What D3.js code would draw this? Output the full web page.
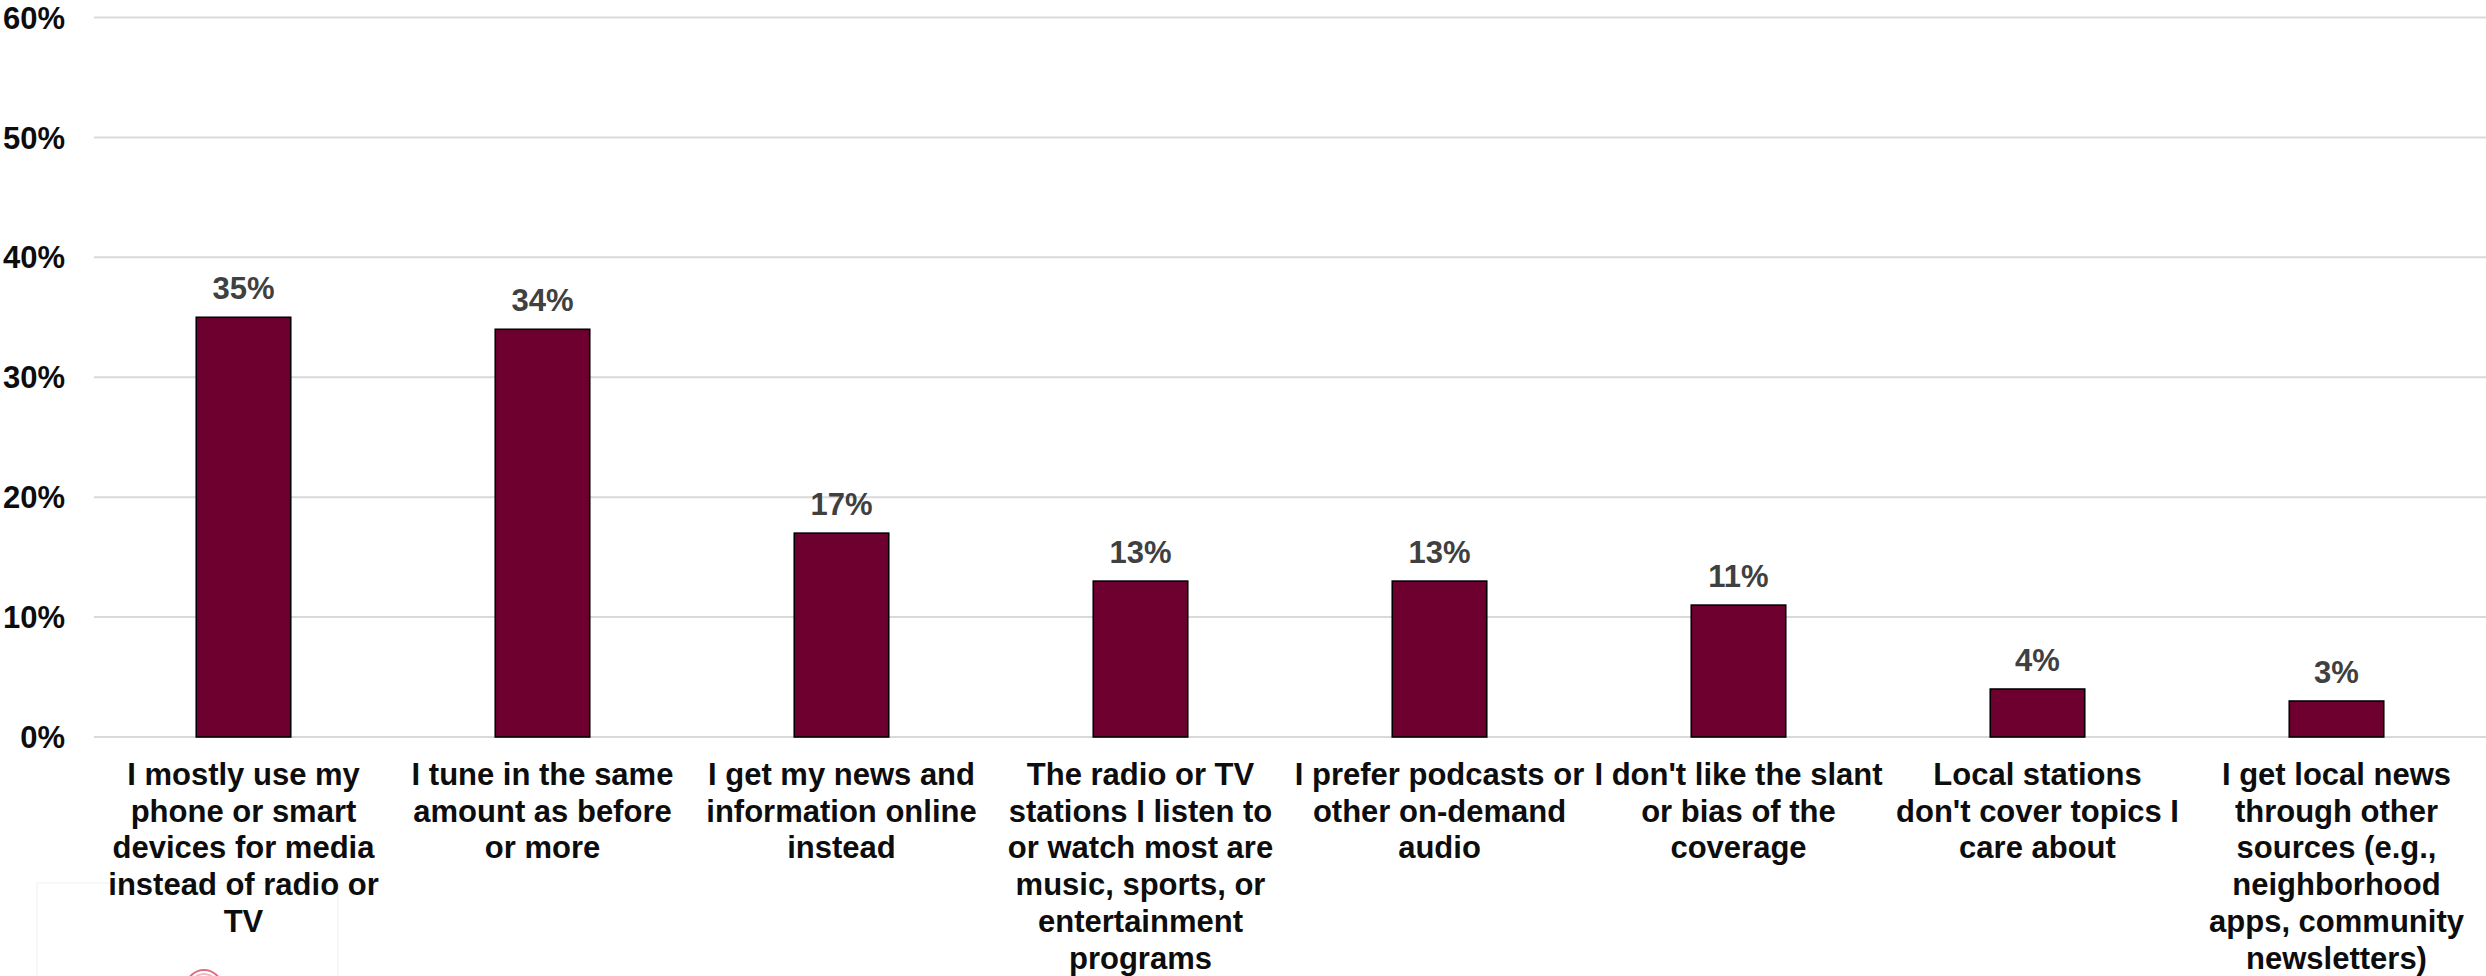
<!DOCTYPE html>
<html>
<head>
<meta charset="utf-8">
<script src="https://cdn.jsdelivr.net/npm/d3@7"></script>
<style>
  html, body { margin: 0; padding: 0; background: #ffffff; }
  svg { display: block; }
</style>
</head>
<body>
<svg id="chart" width="2486" height="976"></svg>
<script>
// ---- data ----
const categories = [
  "I mostly use my\nphone or smart\ndevices for media\ninstead of radio or\nTV",
  "I tune in the same\namount as before\nor more",
  "I get my news and\ninformation online\ninstead",
  "The radio or TV\nstations I listen to\nor watch most are\nmusic, sports, or\nentertainment\nprograms",
  "I prefer podcasts or\nother on-demand\naudio",
  "I don't like the slant\nor bias of the\ncoverage",
  "Local stations\ndon't cover topics I\ncare about",
  "I get local news\nthrough other\nsources (e.g.,\nneighborhood\napps, community\nnewsletters)"
];
const values = [35, 34, 17, 13, 13, 11, 4, 3];
const yTicks = [0, 10, 20, 30, 40, 50, 60];
const yTickLabels = ["0%", "10%", "20%", "30%", "40%", "50%", "60%"];

// ---- layout ----
const W = 2486, H = 976;
const plotLeft = 94, plotRight = 2486;
const y0 = 737, yTop = 17.5;
const font = "'Liberation Sans', Arial, sans-serif";

const svg = d3.select("#chart");

const x = d3.scaleBand()
  .domain(d3.range(categories.length))
  .range([plotLeft, plotRight])
  .paddingInner(0)
  .paddingOuter(0);

const y = d3.scaleLinear().domain([0, 60]).range([y0, yTop]);

const barW = x.bandwidth() * 0.316;

// faint logo box at bottom-left (partially cut off), drawn behind everything
const logo = svg.append("g");
logo.append("rect")
  .attr("x", 37).attr("y", 883)
  .attr("width", 301).attr("height", 120)
  .attr("fill", "none")
  .attr("stroke", "#f5f5f5")
  .attr("stroke-width", 1.5);
[18, 14, 10, 6].forEach((r, k) => {
  logo.append("circle")
    .attr("cx", 204).attr("cy", 988)
    .attr("r", r)
    .attr("fill", "none")
    .attr("stroke", k % 2 === 0 ? "#e07080" : "#f2b8c0")
    .attr("stroke-width", 2);
});

// gridlines
svg.append("g")
  .selectAll("line")
  .data(yTicks)
  .join("line")
  .attr("x1", plotLeft)
  .attr("x2", plotRight)
  .attr("y1", d => y(d))
  .attr("y2", d => y(d))
  .attr("stroke", "#d9d9d9")
  .attr("stroke-width", 2);

// y tick labels
svg.append("g")
  .selectAll("text")
  .data(yTicks)
  .join("text")
  .attr("x", 65)
  .attr("y", d => y(d))
  .attr("dy", "0.36em")
  .attr("text-anchor", "end")
  .attr("font-family", font)
  .attr("font-weight", "bold")
  .attr("font-size", 31)
  .attr("fill", "#0d0d0d")
  .text((d, i) => yTickLabels[i]);

// bars
svg.append("g")
  .selectAll("rect")
  .data(values)
  .join("rect")
  .attr("x", (d, i) => x(i) + x.bandwidth() / 2 - barW / 2)
  .attr("y", d => y(d))
  .attr("width", barW)
  .attr("height", d => y0 - y(d))
  .attr("fill", "#6e0030")
  .attr("stroke", "#000000")
  .attr("stroke-width", 1.6);

// value labels
svg.append("g")
  .selectAll("text")
  .data(values)
  .join("text")
  .attr("x", (d, i) => x(i) + x.bandwidth() / 2)
  .attr("y", d => y(d) - 18)
  .attr("text-anchor", "middle")
  .attr("font-family", font)
  .attr("font-weight", "bold")
  .attr("font-size", 31)
  .attr("fill", "#404040")
  .text(d => d + "%");

// category labels
const catG = svg.append("g");
categories.forEach((c, i) => {
  const t = catG.append("text")
    .attr("text-anchor", "middle")
    .attr("font-family", font)
    .attr("font-weight", "bold")
    .attr("font-size", 31)
    .attr("fill", "#0d0d0d");
  c.split("\n").forEach((line, k) => {
    t.append("tspan")
      .attr("x", x(i) + x.bandwidth() / 2)
      .attr("y", 785 + k * 36.7)
      .text(line);
  });
});
</script>
</body>
</html>
